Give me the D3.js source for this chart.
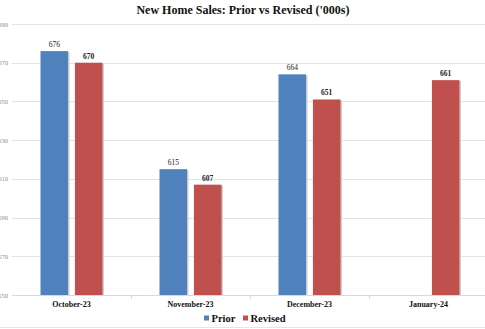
<!DOCTYPE html>
<html>
<head>
<meta charset="utf-8">
<script src="https://cdn.jsdelivr.net/npm/d3@7"></script>
<style>
  html, body { margin: 0; padding: 0; background: #fff; }
  svg { display: block; }
</style>
</head>
<body>
<script>
// New home sales by month, first estimate vs revised (thousands)
const categories = ["October-23", "November-23", "December-23", "January-24"];
const seriesNames = ["Prior", "Revised"];
const priorValues = [676, 615, 664, null];
const revisedValues = [670, 607, 651, 661];
const yTicks = [550, 570, 590, 610, 630, 650, 670, 690];
const colors = ["#4F81BD", "#C0504D"];

const W = 485, H = 329;
const serif = "'Liberation Serif', 'Times New Roman', serif";

const svg = d3.select("body").append("svg")
  .attr("width", W).attr("height", H);

svg.append("rect").attr("width", W).attr("height", H).attr("fill", "#fff");

const plot = { left: 12, right: 488, top: 24, bottom: 295 };

const x = d3.scaleBand().domain(categories).range([plot.left, plot.right]);
const x1 = d3.scaleBand().domain(seriesNames).range([x.bandwidth() / 2 - 31, x.bandwidth() / 2 + 31]).paddingInner(0.2);
const y = d3.scaleLinear().domain([550, 690]).range([plot.bottom, plot.top]);

// gridlines
svg.append("g").selectAll("line").data(yTicks.slice(1)).join("line")
  .attr("x1", plot.left).attr("x2", plot.right)
  .attr("y1", d => Math.round(y(d)) + 0.5).attr("y2", d => Math.round(y(d)) + 0.5)
  .attr("stroke", "#e3e3e3").attr("stroke-width", 1);

// y axis labels, hugging the left edge of the chart
const yAxis = d3.axisLeft(y).tickValues(yTicks).tickSize(0).tickPadding(2);
const yg = svg.append("g").attr("transform", `translate(${plot.left - 2},0)`).call(yAxis);
yg.select(".domain").remove();
yg.selectAll("text").attr("font-family", serif).attr("font-size", 6.5).attr("fill", "#8c8c8c");

// bars
const data = categories.map((c, i) => ({ c, vals: [
  { s: "Prior", v: priorValues[i] }, { s: "Revised", v: revisedValues[i] }
].filter(d => d.v != null) }));

const groups = svg.append("g").selectAll("g").data(data).join("g")
  .attr("transform", d => `translate(${x(d.c)},0)`);

// soft shadow on the right edge of each bar
groups.selectAll("rect.shadow").data(d => d.vals).join("rect").attr("class", "shadow")
  .attr("x", d => x1(d.s) + 1.5).attr("y", d => y(d.v) + 1)
  .attr("width", x1.bandwidth()).attr("height", d => y(550) - y(d.v) - 1)
  .attr("fill", "#d0d0d0");

groups.selectAll("rect.bar").data(d => d.vals).join("rect").attr("class", "bar")
  .attr("x", d => x1(d.s)).attr("y", d => y(d.v))
  .attr("width", x1.bandwidth()).attr("height", d => y(550) - y(d.v))
  .attr("fill", d => colors[seriesNames.indexOf(d.s)]);

groups.selectAll("text").data(d => d.vals).join("text")
  .attr("x", d => x1(d.s) + x1.bandwidth() / 2).attr("y", d => y(d.v) - 4)
  .attr("text-anchor", "middle")
  .attr("font-family", serif).attr("font-size", 7.5)
  .attr("font-weight", d => d.s === "Revised" ? "bold" : "normal")
  .attr("fill", "#222")
  .text(d => d.v);

// x axis
svg.append("line").attr("x1", plot.left).attr("x2", plot.right)
  .attr("y1", y(550) + 0.5).attr("y2", y(550) + 0.5).attr("stroke", "#d9d9d9");
svg.append("g").selectAll("line").data(categories.slice(1)).join("line")
  .attr("x1", d => Math.round(x(d)) + 0.5).attr("x2", d => Math.round(x(d)) + 0.5)
  .attr("y1", y(550)).attr("y2", y(550) + 4).attr("stroke", "#d9d9d9");

svg.append("g").selectAll("text").data(categories).join("text")
  .attr("x", d => x(d) + x.bandwidth() / 2).attr("y", 307)
  .attr("text-anchor", "middle")
  .attr("font-family", serif).attr("font-size", 8).attr("font-weight", "bold")
  .attr("fill", "#111").text(d => d);

// title
svg.append("text").attr("x", 243).attr("y", 14).attr("text-anchor", "middle")
  .attr("font-family", serif).attr("font-size", 12).attr("font-weight", "bold")
  .attr("fill", "#111").text("New Home Sales: Prior vs Revised ('000s)");

// legend
const legend = svg.append("g");
const lx = [204, 243];
seriesNames.forEach((s, i) => {
  legend.append("rect").attr("x", lx[i]).attr("y", 315.5).attr("width", 5).attr("height", 5).attr("fill", colors[i]);
  legend.append("text").attr("x", lx[i] + 7.5).attr("y", 321.5)
    .attr("font-family", serif).attr("font-size", 10.5).attr("font-weight", "bold")
    .attr("fill", "#111").text(s);
});

// frame line along the bottom
svg.append("line").attr("x1", 0).attr("x2", W).attr("y1", 327.5).attr("y2", 327.5).attr("stroke", "#e6e6e6");
</script>
</body>
</html>
